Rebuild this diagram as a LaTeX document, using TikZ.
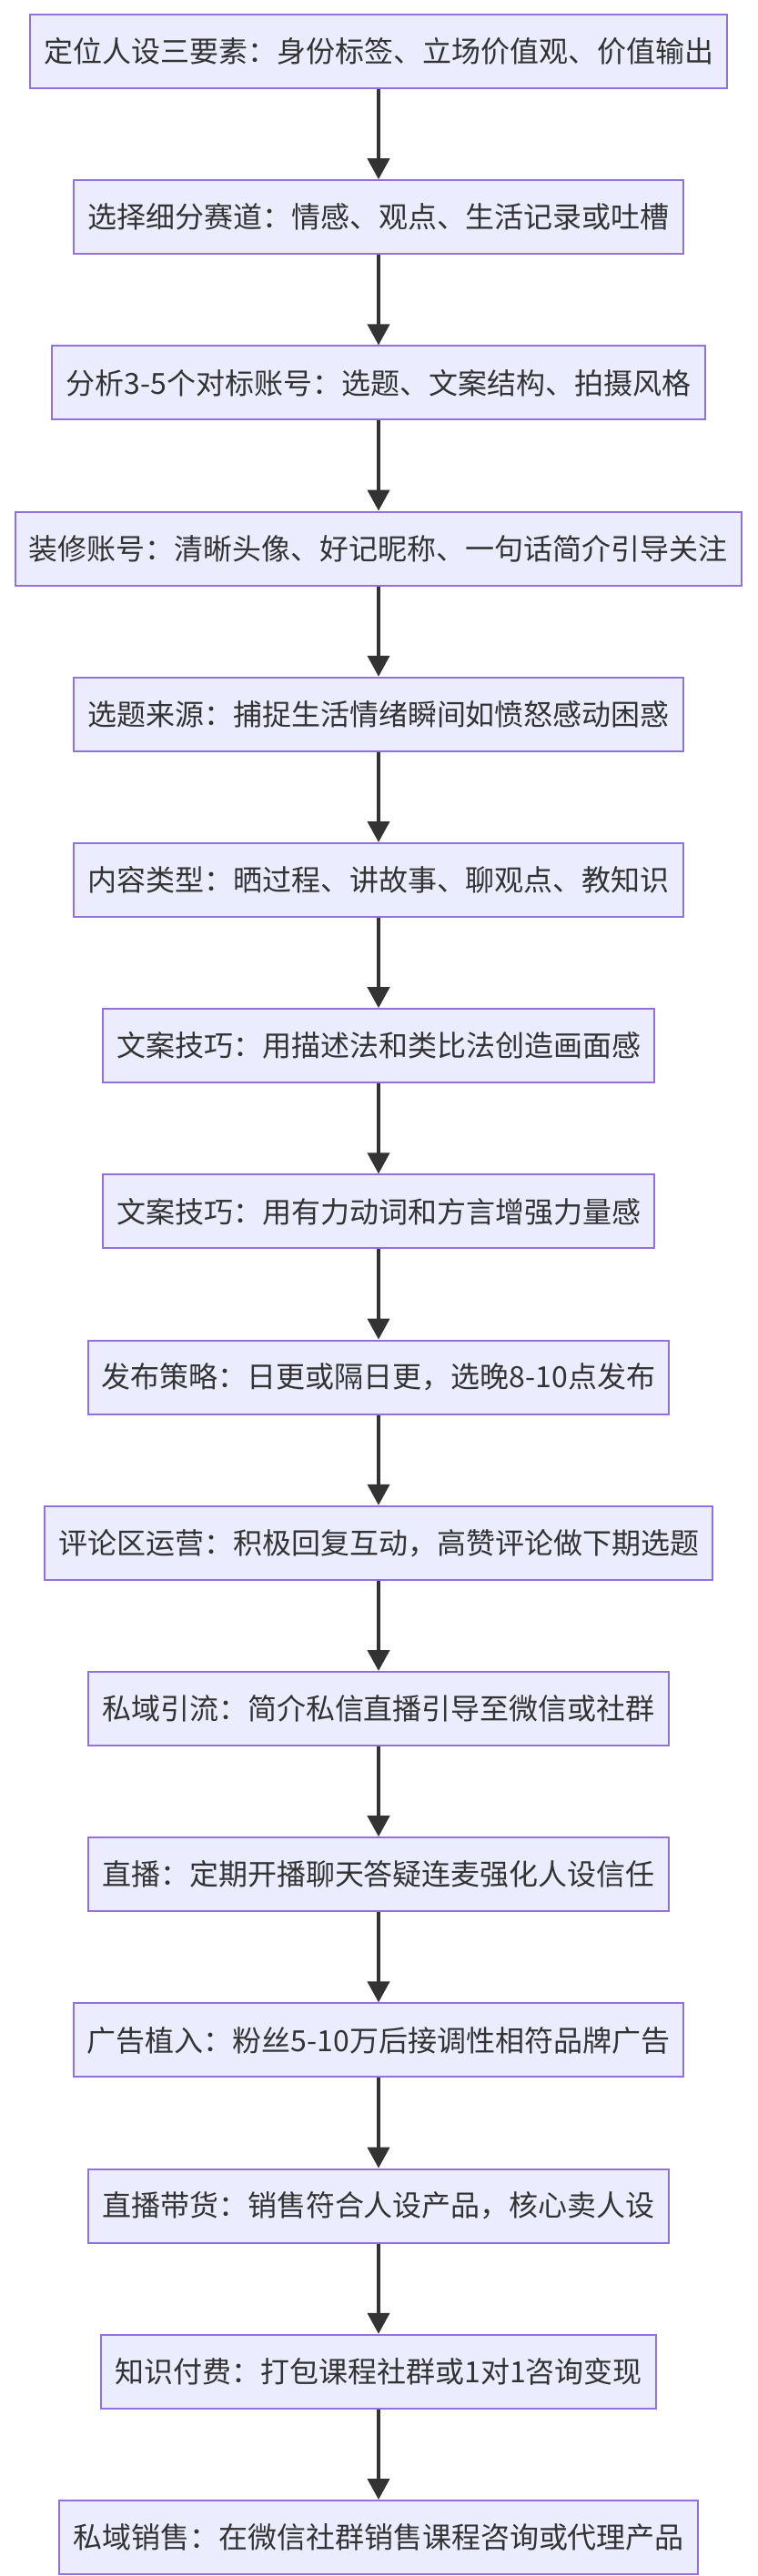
\documentclass[tikz,border=0pt]{standalone}
\usepackage{fontspec}
\setmainfont{Noto Sans CJK SC}
\usepackage{xcolor}
\usetikzlibrary{positioning,arrows.meta}

\definecolor{boxfill}{HTML}{ECECFF}
\definecolor{boxline}{HTML}{9370DB}
\definecolor{ink}{HTML}{333333}

\tikzset{
  stage/.style={draw=boxline,fill=boxfill,line width=1pt,text=ink,
    font=\fontsize{16pt}{19pt}\selectfont,inner xsep=7.6pt,
    minimum height=40.5pt},
  flow/.style={draw=ink,line width=2pt,-{Triangle[length=11.5pt,width=12pt]}}
}

\begin{document}
\begin{tikzpicture}[node distance=49.6pt]
  \useasboundingbox (0,0) rectangle (416pt,-1416pt);
  \node[stage] (persona) at (208pt,-28.25pt) {定位人设三要素：身份标签、立场价值观、价值输出};
  \node[stage,below=of persona] (track) {选择细分赛道：情感、观点、生活记录或吐槽};
  \node[stage,below=of track] (bench) {分析3-5个对标账号：选题、文案结构、拍摄风格};
  \node[stage,below=of bench] (decor) {装修账号：清晰头像、好记昵称、一句话简介引导关注};
  \node[stage,below=of decor] (topic) {选题来源：捕捉生活情绪瞬间如愤怒感动困惑};
  \node[stage,below=of topic] (ctype) {内容类型：晒过程、讲故事、聊观点、教知识};
  \node[stage,below=of ctype] (copya) {文案技巧：用描述法和类比法创造画面感};
  \node[stage,below=of copya] (copyb) {文案技巧：用有力动词和方言增强力量感};
  \node[stage,below=of copyb] (publish) {发布策略：日更或隔日更，选晚8-10点发布};
  \node[stage,below=of publish] (comment) {评论区运营：积极回复互动，高赞评论做下期选题};
  \node[stage,below=of comment] (private) {私域引流：简介私信直播引导至微信或社群};
  \node[stage,below=of private] (live) {直播：定期开播聊天答疑连麦强化人设信任};
  \node[stage,below=of live] (ads) {广告植入：粉丝5-10万后接调性相符品牌广告};
  \node[stage,below=of ads] (sales) {直播带货：销售符合人设产品，核心卖人设};
  \node[stage,below=of sales] (course) {知识付费：打包课程社群或1对1咨询变现};
  \node[stage,below=of course] (wechat) {私域销售：在微信社群销售课程咨询或代理产品};
  % connectors, top to bottom
  \foreach \a/\b in {persona/track,track/bench,bench/decor,decor/topic,
      topic/ctype,ctype/copya,copya/copyb,copyb/publish,publish/comment,
      comment/private,private/live,live/ads,ads/sales,sales/course,course/wechat}
    \draw[flow] (\a) -- (\b);
\end{tikzpicture}
\end{document}
